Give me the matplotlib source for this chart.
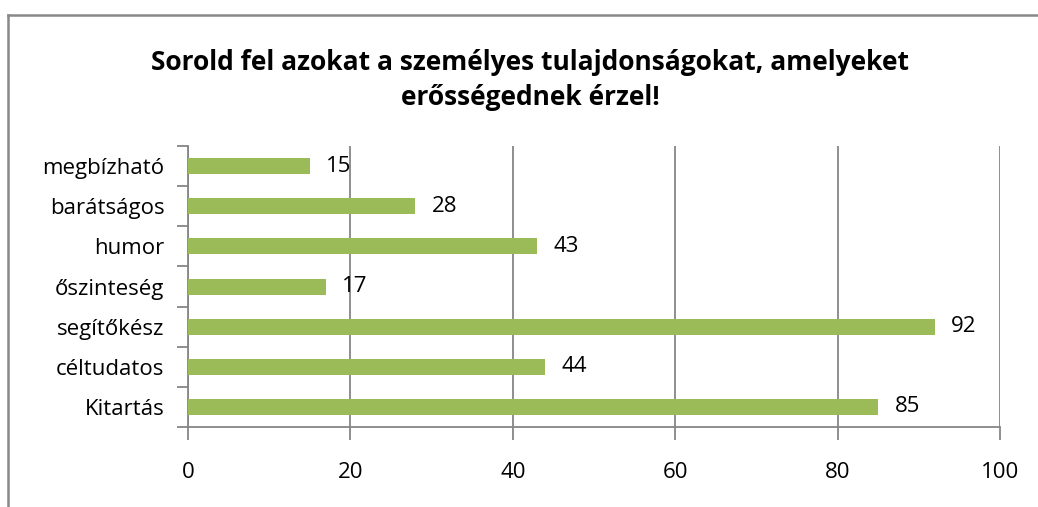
import matplotlib
matplotlib.use("Agg")
import matplotlib.pyplot as plt
from matplotlib.lines import Line2D
import numpy as np

# ==============================
# Data
# ==============================
categories = ["Kitartás", "céltudatos", "segítőkész", "őszinteség", "humor", "barátságos", "megbízható"]
values = [85, 44, 92, 17, 43, 28, 15]
x_ticks = [0, 20, 40, 60, 80, 100]
title = "Sorold fel azokat a személyes tulajdonságokat, amelyeket\nerősségednek érzel!"

BAR_COLOR = "#9BBB59"
GRID_COLOR = "#868686"

plt.rcParams["font.family"] = ["Open Sans", "DejaVu Sans"]

fig = plt.figure(figsize=(10.38, 5.07), dpi=100)
ax = fig.add_axes([0.1811, 0.1578, 0.7823, 0.554])

# ==============================
# Bars + labels
# ==============================
y = np.arange(len(categories))
ax.barh(y, values, height=0.4, color=BAR_COLOR, zorder=3)
for yi, v in zip(y, values):
    ax.text(v + 2, yi, str(v), va="center", ha="left", fontsize=16, zorder=4)

ax.set_xlim(0, 100)
ax.set_ylim(-0.5, len(categories) - 0.5)

ax.set_xticks(x_ticks)
ax.set_xticklabels([str(t) for t in x_ticks], fontsize=16)
ax.tick_params(axis="x", length=9, width=1.3, color=GRID_COLOR, pad=16)

ax.set_yticks(y)
ax.set_yticklabels(categories, fontsize=16)
ax.tick_params(axis="y", which="major", length=0, pad=17)
ax.set_yticks(np.arange(-0.5, len(categories)), minor=True)
ax.tick_params(axis="y", which="minor", length=8, width=1.3, color=GRID_COLOR)

ax.grid(axis="x", color=GRID_COLOR, linewidth=1.3, zorder=0)
for side in ["top", "right"]:
    ax.spines[side].set_visible(False)
for side in ["left", "bottom"]:
    ax.spines[side].set_color(GRID_COLOR)
    ax.spines[side].set_linewidth(1.3)

fig.text(0.511, 0.842, title, ha="center", va="center", fontsize=19,
         fontweight="bold", linespacing=1.35)

# chart frame (clipped at right/bottom like the source)
fig.add_artist(Line2D([0.0077, 1.0], [0.9704, 0.9704], color="#888888", linewidth=1.8))
fig.add_artist(Line2D([0.0077, 0.0077], [0.0, 0.9704], color="#888888", linewidth=1.8))

fig.savefig("out.png", dpi=100)
